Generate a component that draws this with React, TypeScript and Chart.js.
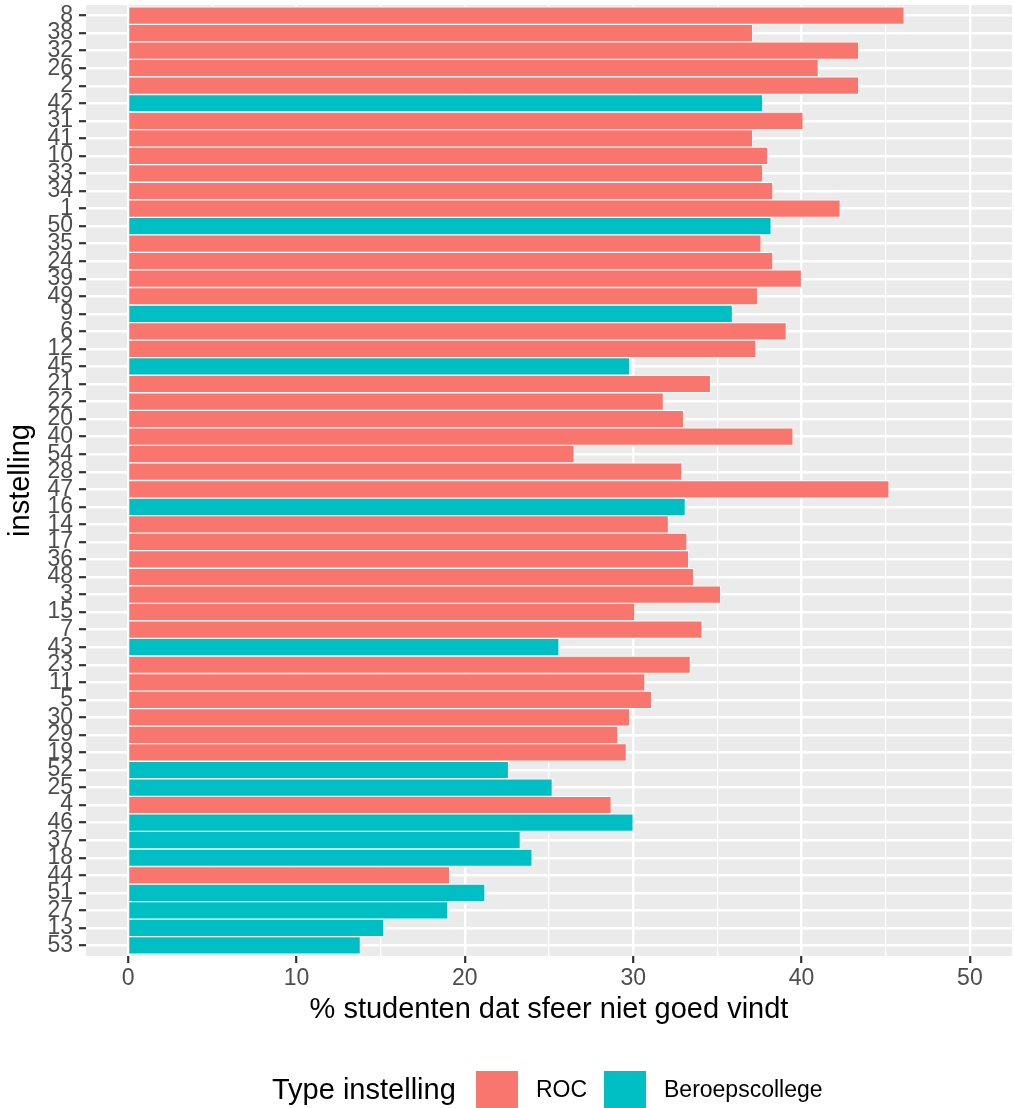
import React, { useEffect, useRef } from 'react';
import { Chart, registerables } from 'chart.js';

Chart.register(...registerables);

const institutions = ['8', '38', '32', '26', '2', '42', '31', '41', '10', '33', '34', '1', '50', '35', '24', '39', '49', '9', '6', '12', '45', '21', '22', '20', '40', '54', '28', '47', '16', '14', '17', '36', '48', '3', '15', '7', '43', '23', '11', '5', '30', '29', '19', '52', '25', '4', '46', '37', '18', '44', '51', '27', '13', '53'];

const pctValues = [46.1, 37.1, 43.4, 41.0, 43.4, 37.7, 40.1, 37.1, 38.0, 37.7, 38.3, 42.3,
  38.2, 37.6, 38.3, 40.0, 37.4, 35.9, 39.1, 37.3, 29.8, 34.6, 31.8, 33.0,
  39.5, 26.5, 32.9, 45.2, 33.1, 32.1, 33.2, 33.3, 33.6, 35.2, 30.1, 34.1,
  25.6, 33.4, 30.7, 31.1, 29.8, 29.1, 29.6, 22.6, 25.2, 28.7, 30.0, 23.3,
  24.0, 19.1, 21.2, 19.0, 15.2, 13.8];

const R = 'ROC';
const B = 'Beroepscollege';
const instType = [R, R, R, R, R, B, R, R, R, R, R, R,
  B, R, R, R, R, B, R, R, B, R, R, R,
  R, R, R, R, B, R, R, R, R, R, R, R,
  B, R, R, R, R, R, R, B, B, R, B, B,
  B, R, B, B, B, B];

const typeNames = [R, B];
const typeColors = ['#F8766D', '#00BFC4'];
const legendTitle = 'Type instelling';
const xTickValues = [0, 5, 10, 15, 20, 25, 30, 35, 40, 45, 50];
const xTitle = '% studenten dat sfeer niet goed vindt';
const yTitle = 'instelling';

const FONT = "'Liberation Sans', Arial, Helvetica, sans-serif";

export default function App() {
  const ref = useRef<HTMLCanvasElement>(null);

  useEffect(() => {
    const panelBg = {
      id: 'panelBg',
      beforeDraw(chart: any) {
        const { ctx, chartArea: a } = chart;
        ctx.save();
        ctx.fillStyle = '#EBEBEB';
        ctx.fillRect(a.left, a.top, a.right - a.left, a.bottom - a.top);
        ctx.restore();
      },
    };

    const chart = new Chart(ref.current as HTMLCanvasElement, {
      type: 'bar',
      data: {
        datasets: [
          {
            data: pctValues.map((v, i) => ({ x: v, y: i + 1 })),
            backgroundColor: instType.map((t) => typeColors[typeNames.indexOf(t)]),
            borderColor: '#FFFFFF',
            borderWidth: 1,
            barPercentage: 1,
            categoryPercentage: 1,
          } as any,
        ],
      },
      options: {
        indexAxis: 'y',
        animation: false,
        responsive: false,
        devicePixelRatio: 1,
        layout: { padding: { left: 0, right: 2, top: 5, bottom: 81 } },
        plugins: {
          legend: { display: false },
          tooltip: { enabled: false },
        },
        scales: {
          x: {
            type: 'linear',
            position: 'bottom',
            offset: false,
            min: -2.5,
            max: 52.5,
            afterBuildTicks: (s: any) => {
              s.ticks = xTickValues.map((v) => ({ value: v }));
            },
            afterFit: (s: any) => {
              s.height = 71;
              s.paddingLeft = 0;
              s.paddingRight = 0;
            },
            ticks: {
              autoSkip: false,
              maxRotation: 0,
              padding: 2,
              color: '#4D4D4D',
              font: { family: FONT, size: 23 },
              callback: (v: any) => (Number(v) % 10 === 0 ? String(v) : ''),
            },
            grid: {
              offset: false,
              color: '#FFFFFF',
              lineWidth: (c: any) => (c.tick && c.tick.value % 10 === 0 ? 2.4 : 1.2),
              tickColor: (c: any) => (c.tick && c.tick.value % 10 === 0 ? '#333333' : 'rgba(0,0,0,0)'),
              tickLength: 7,
              tickWidth: 2.2,
            },
            border: { display: false },
            title: {
              display: true,
              text: xTitle,
              color: '#000000',
              font: { family: FONT, size: 29 },
              padding: { top: 0, bottom: 0 },
            },
          },
          y: {
            type: 'linear',
            reverse: true,
            offset: false,
            min: 0.4,
            max: institutions.length + 0.6,
            afterBuildTicks: (s: any) => {
              s.ticks = institutions.map((_, i) => ({ value: i + 1 }));
            },
            afterFit: (s: any) => {
              s.width = 86;
              s.paddingTop = 0;
              s.paddingBottom = 0;
            },
            ticks: {
              autoSkip: false,
              padding: 6,
              color: '#4D4D4D',
              font: { family: FONT, size: 23 },
              callback: (v: any) => institutions[Math.round(Number(v)) - 1] ?? '',
            },
            grid: {
              offset: false,
              color: '#FFFFFF',
              lineWidth: 2.4,
              tickColor: '#333333',
              tickLength: 7,
              tickWidth: 2.2,
            },
            border: { display: false },
            title: {
              display: true,
              text: yTitle,
              color: '#000000',
              font: { family: FONT, size: 29 },
              padding: { top: 4, bottom: 0 },
            },
          },
        },
      } as any,
      plugins: [panelBg],
    });

    return () => chart.destroy();
  }, []);

  const boxLefts = [476, 604];
  const labelLefts = [536, 664];

  return (
    <div
      style={{
        position: 'absolute',
        left: 0,
        top: 0,
        width: 1014,
        height: 1108,
        overflow: 'hidden',
        background: '#FFFFFF',
        fontFamily: FONT,
      }}
    >
      <canvas ref={ref} width={1014} height={1108} style={{ display: 'block' }} />
      <div
        style={{
          position: 'absolute',
          left: 272,
          top: 1072,
          fontSize: 29,
          lineHeight: '34px',
          color: '#000000',
          whiteSpace: 'nowrap',
        }}
      >
        {legendTitle}
      </div>
      {typeNames.map((name, i) => (
        <React.Fragment key={name}>
          <div
            style={{
              position: 'absolute',
              left: boxLefts[i],
              top: 1071,
              width: 42,
              height: 42,
              background: typeColors[i],
            }}
          />
          <div
            style={{
              position: 'absolute',
              left: labelLefts[i],
              top: 1075,
              fontSize: 23,
              lineHeight: '28px',
              color: '#000000',
              whiteSpace: 'nowrap',
            }}
          >
            {name}
          </div>
        </React.Fragment>
      ))}
    </div>
  );
}
